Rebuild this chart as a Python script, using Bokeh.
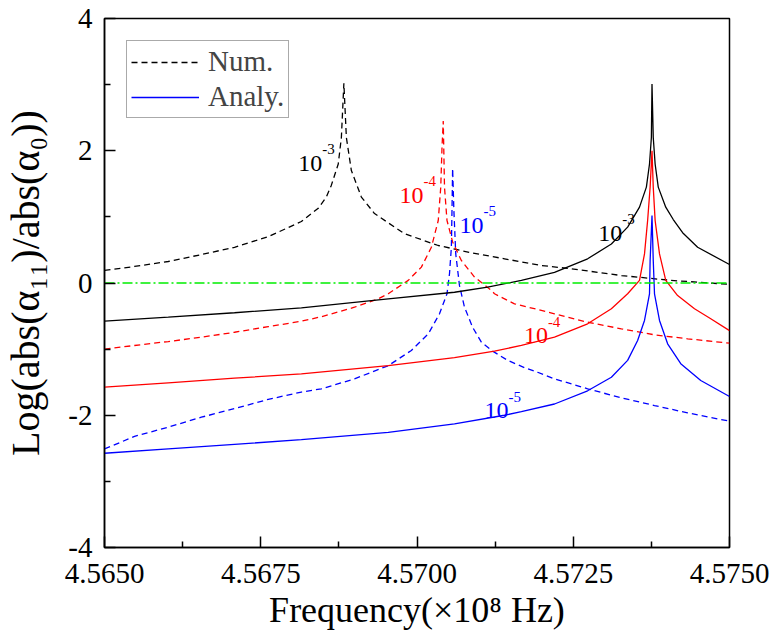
from bokeh.plotting import figure
from bokeh.models import FixedTicker, Legend, LegendItem, Label, Range1d, PrintfTickFormatter
from bokeh.embed import file_html
from bokeh.resources import INLINE

# ---------------- data ----------------
# Numerical, loss 10^-3 (black dashed)
num3_x = [4.56500, 4.56548, 4.56602, 4.56655, 4.56708, 4.56762, 4.56815, 4.56842, 4.56855,
          4.56863, 4.56874, 4.56879, 4.56883, 4.56887, 4.56895, 4.56911, 4.56932, 4.56980,
          4.57034, 4.57087, 4.57140, 4.57199, 4.57247, 4.57327, 4.57406, 4.57500]
num3_y = [0.19, 0.25, 0.325, 0.43, 0.54, 0.70, 0.93, 1.13, 1.30,
          1.48, 1.80, 2.2, 3.02, 2.2, 1.70, 1.30, 1.05, 0.745,
          0.567, 0.457, 0.366, 0.265, 0.215, 0.113, 0.04, -0.02]

# Numerical, loss 10^-4 (red dashed)
num4_x = [4.56500, 4.56548, 4.56602, 4.56655, 4.56708, 4.56762, 4.56815, 4.56847, 4.56900,
          4.56938, 4.56954, 4.56986, 4.57007, 4.57023, 4.57034, 4.57038, 4.57040, 4.57042,
          4.57044, 4.57048, 4.57057, 4.57071, 4.57092, 4.57119, 4.57124, 4.57156, 4.57193,
          4.57220, 4.57273, 4.57327, 4.57380, 4.57433, 4.57500]
num4_y = [-1.0, -0.945, -0.885, -0.82, -0.745, -0.66, -0.578, -0.51, -0.366,
          -0.24, -0.163, 0.04, 0.24, 0.54, 0.945, 1.45, 2.05, 2.45,
          1.45, 0.945, 0.62, 0.34, 0.09, -0.113, -0.163, -0.315, -0.40,
          -0.466, -0.593, -0.693, -0.784, -0.844, -0.91]

# Numerical, loss 10^-5 (blue dashed)
num5_x = [4.56500, 4.56548, 4.56602, 4.56655, 4.56708, 4.56762, 4.56815, 4.56847, 4.56900,
          4.56954, 4.56991, 4.57018, 4.57036, 4.57048, 4.57052, 4.57055, 4.57056, 4.57057,
          4.57059, 4.57062, 4.57068, 4.57076, 4.57089, 4.57103, 4.57121, 4.57145, 4.57172,
          4.57193, 4.57220, 4.57273, 4.57327, 4.57380, 4.57433, 4.57500]
num5_y = [-2.51, -2.32, -2.18, -2.03, -1.90, -1.76, -1.65, -1.60, -1.45,
          -1.25, -1.02, -0.77, -0.466, -0.163, 0.14, 0.54, 1.10, 1.73,
          1.10, 0.44, -0.04, -0.366, -0.67, -0.895, -1.03, -1.17, -1.28,
          -1.35, -1.45, -1.60, -1.737, -1.853, -1.964, -2.09]

# Analytical, loss 10^-3 (black solid)
an3_x = [4.56500, 4.56602, 4.56708, 4.56815, 4.56954, 4.57060, 4.57113, 4.57167, 4.57220,
         4.57273, 4.57311, 4.57337, 4.57356, 4.57367, 4.57372, 4.57375, 4.57376, 4.57378,
         4.57381, 4.57386, 4.57398, 4.57410, 4.57425, 4.57449, 4.57500]
an3_y = [-0.578, -0.517, -0.45, -0.375, -0.24, -0.14, -0.064, 0.04, 0.16,
         0.366, 0.59, 0.845, 1.147, 1.45, 1.80, 2.2, 3.01, 2.2,
         1.80, 1.45, 1.147, 0.96, 0.76, 0.54, 0.28]

# Analytical, loss 10^-4 (red solid)
an4_x = [4.56500, 4.56602, 4.56708, 4.56815, 4.56954, 4.57060, 4.57124, 4.57167, 4.57220,
         4.57273, 4.57311, 4.57337, 4.57356, 4.57364, 4.57369, 4.57373, 4.57376, 4.57378,
         4.57381, 4.57388, 4.57398, 4.57417, 4.57444, 4.57470, 4.57500]
an4_y = [-1.576, -1.51, -1.44, -1.374, -1.248, -1.13, -1.03, -0.945, -0.82,
         -0.617, -0.39, -0.163, 0.04, 0.44, 0.945, 1.45, 2.0, 1.45,
         0.945, 0.44, 0.04, -0.19, -0.39, -0.54, -0.72]

# Analytical, loss 10^-5 (blue solid)
an5_x = [4.56500, 4.56602, 4.56708, 4.56815, 4.56954, 4.57060, 4.57140, 4.57167, 4.57220,
         4.57273, 4.57311, 4.57337, 4.57353, 4.57364, 4.57372, 4.57373, 4.57376, 4.57378,
         4.57380, 4.57388, 4.57401, 4.57422, 4.57454, 4.57500]
an5_y = [-2.575, -2.51, -2.44, -2.37, -2.26, -2.13, -2.0, -1.944, -1.83,
         -1.63, -1.425, -1.17, -0.87, -0.567, -0.163, 0.34, 1.02, 0.34,
         -0.163, -0.567, -0.92, -1.22, -1.475, -1.717]

# zero reference line
zero_x = [4.5650, 4.5750]
zero_y = [0.0, 0.0]

x_ticks = [4.5650, 4.5675, 4.5700, 4.5725, 4.5750]
x_tick_labels = ["4.5650", "4.5675", "4.5700", "4.5725", "4.5750"]
x_minor = [4.56625, 4.56875, 4.57125, 4.57375]
y_ticks = [-4, -2, 0, 2, 4]
y_tick_labels = ["-4", "-2", "0", "2", "4"]
y_minor = [-3, -1, 1, 3]

# in-plot annotations "10^exp": anchor (data coords), exponent, colour
ann_x = [4.56810, 4.56972, 4.57068, 4.57290, 4.57171, 4.57108]
ann_y = [1.808, 1.324, 0.870, 0.749, -0.794, -1.929]
ann_exp = ["-3", "-4", "-5", "-3", "-4", "-5"]
ann_color = ["black", "red", "blue", "black", "red", "blue"]

# ---------------- figure ----------------
FONT = "'Liberation Serif', 'Times New Roman', serif"

p = figure(width=770, height=640, output_backend="svg", toolbar_location=None,
           x_range=Range1d(4.5650, 4.5750), y_range=Range1d(-4, 4),
           min_border_left=103, min_border_right=41, min_border_top=18, min_border_bottom=93)
p.grid.visible = False
p.outline_line_color = "black"
p.outline_line_width = 1.5
p.background_fill_color = "white"
p.border_fill_color = "white"

xa = p.xaxis[0]
ya = p.yaxis[0]
xa.ticker = FixedTicker(ticks=x_ticks, minor_ticks=x_minor)
ya.ticker = FixedTicker(ticks=y_ticks, minor_ticks=y_minor)
xa.formatter = PrintfTickFormatter(format="%.4f")
ya.formatter = PrintfTickFormatter(format="%d")
xa.major_label_overrides = {float(t): s for t, s in zip(x_ticks, x_tick_labels)}
ya.major_label_overrides = {float(t): s for t, s in zip(y_ticks, y_tick_labels)}

for ax in (xa, ya):
    ax.axis_line_width = 1.5
    ax.axis_line_color = "black"
    ax.major_tick_in = 11
    ax.major_tick_out = 0
    ax.minor_tick_in = 6
    ax.minor_tick_out = 0
    ax.major_tick_line_width = 1.5
    ax.minor_tick_line_width = 1.5
    ax.major_tick_line_color = "black"
    ax.minor_tick_line_color = "black"
    ax.major_label_text_font = FONT
    ax.major_label_text_font_size = "29px"
    ax.major_label_text_color = "black"
    ax.axis_label_text_font = FONT
    ax.axis_label_text_font_style = "normal"
    ax.axis_label_text_color = "black"

xa.major_label_standoff = 16
ya.major_label_standoff = 12
xa.axis_label = "Frequency(\u00d710\u2078 Hz)"
xa.axis_label_text_font_size = "36px"
xa.axis_label_standoff = 4
ya.axis_label = "Log(abs(\u03b1\u2081\u2081)/abs(\u03b1\u2080))"
ya.axis_label_text_font_size = "40px"
ya.axis_label_standoff = 17

LW = 1.3
r_num3 = p.line(num3_x, num3_y, line_color="black", line_width=LW, line_dash="6 4")
r_num4 = p.line(num4_x, num4_y, line_color="red", line_width=LW, line_dash="6 4")
r_num5 = p.line(num5_x, num5_y, line_color="blue", line_width=LW, line_dash="6 4")
r_an3 = p.line(an3_x, an3_y, line_color="black", line_width=LW)
r_an4 = p.line(an4_x, an4_y, line_color="red", line_width=LW)
r_an5 = p.line(an5_x, an5_y, line_color="blue", line_width=LW)
p.line(zero_x, zero_y, line_color="#00ee00", line_width=LW, line_dash="10 3 2 3")

legend = Legend(items=[LegendItem(label="Num.", renderers=[r_num3]),
                       LegendItem(label="Analy.", renderers=[r_an5])],
                location="top_left", margin=22, padding=4, spacing=2,
                glyph_width=68, glyph_height=30, label_standoff=9,
                label_text_font=FONT, label_text_font_size="29px",
                border_line_color="#555555", border_line_width=1,
                background_fill_color="white", background_fill_alpha=1.0)
p.add_layout(legend)

for x, y, e, c in zip(ann_x, ann_y, ann_exp, ann_color):
    p.add_layout(Label(x=x, y=y, text="10", text_font=FONT, text_font_size="24px",
                       text_color=c, text_baseline="alphabetic", text_align="left"))
    p.add_layout(Label(x=x, y=y, x_offset=24, y_offset=14, text=e, text_font=FONT,
                       text_font_size="15px", text_color=c, text_baseline="alphabetic",
                       text_align="left"))

open("out.html", "w").write(file_html(p, INLINE))
